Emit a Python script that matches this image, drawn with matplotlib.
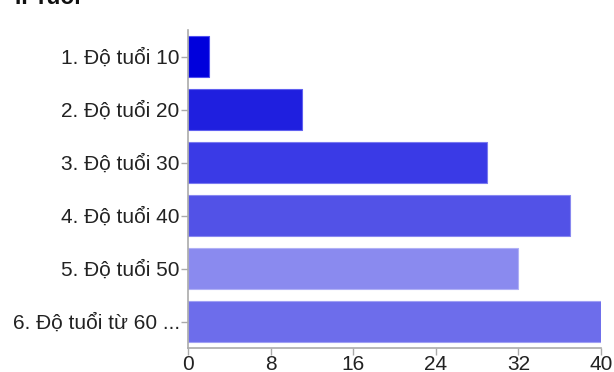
import matplotlib
matplotlib.use("Agg")
import matplotlib.pyplot as plt
import numpy as np

plt.rcParams['font.family'] = ['Liberation Sans', 'DejaVu Sans']

labels = ["1. Độ tuổi 10", "2. Độ tuổi 20", "3. Độ tuổi 30",
          "4. Độ tuổi 40", "5. Độ tuổi 50", "6. Độ tuổi từ 60 ..."]
counts = [2, 11, 29, 37, 32, 40]
colors = ["#0000dc", "#1f1fdf", "#3a3ae6", "#5252e7", "#8a8aef", "#6d6deb"]
edges = ["#5050f0", "#6060f0", "#7a7af0", "#8888f0", "#b0b0f6", "#a0a0f4"]
xticks = [0, 8, 16, 24, 32, 40]

fig = plt.figure(figsize=(6.14, 3.72), dpi=100)
ax = fig.add_axes([188/614, 1 - 348/372, 413/614, 318/372])

y = np.arange(len(labels))
ax.barh(y, counts, height=0.79, color=colors, edgecolor=edges, linewidth=0.8)

ax.set_ylim(len(labels) - 0.5, -0.5)
ax.set_xlim(0, 40)
ax.set_yticks(y)
ax.set_yticklabels(labels, fontsize=15, color="#222222")
ax.set_xticks(xticks)
ax.set_xticklabels([str(t) for t in xticks], fontsize=15, color="#222222")
ax.tick_params(axis="both", color="#aaaaaa", length=5, width=1)
ax.tick_params(axis="x", pad=0)
ax.tick_params(axis="y", pad=1)

for s in ["top", "right"]:
    ax.spines[s].set_visible(False)
for s in ["left", "bottom"]:
    ax.spines[s].set_color("#aaaaaa")
    ax.spines[s].set_linewidth(1.2)

fig.text(15/614, 1 - 4.5/372, "I. Tuổi", fontsize=16.5, fontweight="bold",
         va="baseline", ha="left", color="#111111")

fig.savefig("out.png", dpi=100)
